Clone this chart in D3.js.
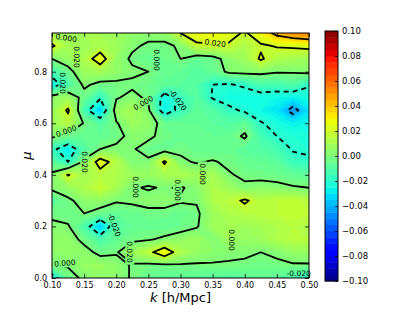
<!DOCTYPE html>
<html>
<head>
<meta charset="utf-8">
<script src="https://cdn.jsdelivr.net/npm/d3@7"></script>
<style>
  body { margin: 0; background: #fff; }
  svg { display: block; }
  text { font-family: "DejaVu Sans", sans-serif; fill: #000; }
</style>
</head>
<body>
<svg id="chart" width="415" height="312"></svg>
<script>
// grid sample positions
const kValues = [0.100, 0.125, 0.150, 0.175, 0.200, 0.225, 0.250, 0.275, 0.300,
                 0.325, 0.350, 0.375, 0.400, 0.425, 0.450, 0.475, 0.500];
const muValues = [0.00, 0.05, 0.10, 0.15, 0.20, 0.25, 0.30, 0.35, 0.40, 0.45,
                  0.50, 0.55, 0.60, 0.65, 0.70, 0.75, 0.80, 0.85, 0.90, 0.95];

// one row per mu (bottom to top), one column per k
const deltaByMu = [
  [-0.028,-0.004, 0.002, 0.005, 0.004,-0.001,-0.006,-0.008,-0.008,-0.008,-0.009,-0.010,-0.008,-0.006,-0.008,-0.012,-0.022],
  [-0.001, 0.001, 0.006, 0.007, 0.004,-0.001,-0.002,-0.002,-0.001,-0.001,-0.001,-0.001,-0.002,-0.003,-0.002,-0.001,-0.001],
  [ 0.004, 0.006, 0.004,-0.003,-0.001, 0.008, 0.016, 0.030, 0.012, 0.006, 0.004, 0.002, 0.002, 0.000, 0.002, 0.006, 0.007],
  [ 0.006, 0.005,-0.003,-0.012,-0.006,-0.002,-0.001, 0.002, 0.005, 0.008, 0.002, 0.008, 0.006, 0.008, 0.012, 0.015, 0.014],
  [ 0.003, 0.001,-0.012,-0.036,-0.010,-0.006,-0.005,-0.006,-0.004,-0.001, 0.008, 0.010, 0.008, 0.010, 0.012, 0.014, 0.013],
  [-0.003,-0.004, 0.000,-0.004,-0.006,-0.005,-0.003,-0.003,-0.005,-0.002, 0.008, 0.012, 0.014, 0.015, 0.016, 0.018, 0.016],
  [-0.008,-0.002, 0.004, 0.005, 0.001, 0.002, 0.004, 0.004, 0.001, 0.001, 0.012, 0.015, 0.022, 0.014, 0.016, 0.017, 0.015],
  [ 0.002, 0.006, 0.012, 0.018, 0.010, 0.001,-0.001, 0.001,-0.001, 0.003, 0.012, 0.008, 0.002, 0.004, 0.003, 0.001, 0.000],
  [ 0.002, 0.021, 0.010, 0.014, 0.012, 0.008, 0.006, 0.010, 0.012, 0.008, 0.010, 0.001,-0.002,-0.003,-0.004,-0.006,-0.007],
  [-0.008,-0.020, 0.003, 0.027, 0.014, 0.001, 0.002, 0.022, 0.002,-0.001, 0.001,-0.002,-0.005,-0.006,-0.008,-0.016,-0.018],
  [-0.016,-0.030,-0.010, 0.000, 0.002, 0.001,-0.004,-0.005,-0.002,-0.005,-0.006,-0.005,-0.008,-0.010,-0.013,-0.021,-0.022],
  [ 0.002,-0.003,-0.006,-0.006,-0.003, 0.003, 0.002,-0.003,-0.005,-0.004,-0.006,-0.006, 0.002,-0.014,-0.020,-0.022,-0.023],
  [ 0.008, 0.014,-0.001,-0.010,-0.001, 0.008, 0.005,-0.004,-0.006,-0.006,-0.008,-0.010,-0.006,-0.019,-0.024,-0.028,-0.026],
  [ 0.006, 0.022,-0.014,-0.035, 0.006, 0.010, 0.002,-0.028,-0.016,-0.007,-0.010,-0.017,-0.022,-0.026,-0.030,-0.045,-0.030],
  [ 0.005, 0.008,-0.004,-0.018,-0.001, 0.003,-0.002,-0.026,-0.016,-0.009,-0.021,-0.025,-0.026,-0.025,-0.026,-0.028,-0.024],
  [-0.028,-0.012, 0.002,-0.003,-0.002,-0.002,-0.004,-0.007,-0.008,-0.010,-0.020,-0.021,-0.018,-0.012,-0.013,-0.010,-0.019],
  [-0.014,-0.004, 0.008, 0.010, 0.005, 0.002, 0.000,-0.005,-0.006,-0.009,-0.006, 0.002, 0.003, 0.003, 0.001, 0.001, 0.003],
  [ 0.000, 0.006, 0.012, 0.028, 0.006,-0.002,-0.005,-0.004, 0.000,-0.006,-0.004, 0.004, 0.008, 0.022, 0.012, 0.010, 0.008],
  [ 0.022, 0.010, 0.008, 0.012, 0.008, 0.002,-0.002,-0.003, 0.002, 0.017, 0.018, 0.018, 0.012, 0.018, 0.021, 0.022, 0.024],
  [ 0.008, 0.008, 0.010, 0.010, 0.008, 0.005, 0.004, 0.006, 0.020, 0.028, 0.030, 0.026, 0.018, 0.030, 0.045, 0.052, 0.056]
];

const contourLevels = [-0.04, -0.02, 0.0, 0.02, 0.04];
const xTicks = [0.10, 0.15, 0.20, 0.25, 0.30, 0.35, 0.40, 0.45, 0.50];
const yTicks = [0.0, 0.2, 0.4, 0.6, 0.8];
const cbarTicks = [-0.10, -0.08, -0.06, -0.04, -0.02, 0.00, 0.02, 0.04, 0.06, 0.08, 0.10];

// inline contour labels: k, mu, text, angle
const contourLabels = [
  [0.122, 0.931, "0.000", 8],
  [0.139, 0.857, "0.020", 90],
  [0.117, 0.756, "0.020", 90],
  [0.263, 0.845, "0.000", 90],
  [0.354, 0.911, "0.020", 8],
  [0.242, 0.679, "0.000", -30],
  [0.296, 0.690, "-0.020", 55],
  [0.122, 0.570, "0.000", -20],
  [0.151, 0.450, "0.020", 90],
  [0.231, 0.353, "0.000", 90],
  [0.295, 0.341, "0.000", 90],
  [0.334, 0.403, "0.000", 90],
  [0.197, 0.206, "-0.020", 70],
  [0.221, 0.101, "0.020", 90],
  [0.120, 0.058, "0.000", -5],
  [0.379, 0.147, "0.000", 90],
  [0.484, 0.019, "-0.020", 0]
];

// layout
const plotLeft = 52, plotRight = 309, plotTop = 33, plotBottom = 278;
const cbLeft = 325, cbRight = 338, cbTop = 31, cbBottom = 281;
const vmin = -0.1, vmax = 0.1;

const svg = d3.select('#chart');

const x = d3.scaleLinear().domain([0.1, 0.5]).range([plotLeft, plotRight]);
const y = d3.scaleLinear().domain([0, 0.95]).range([plotBottom, plotTop]);

// matplotlib "jet"
const jetR = d3.scaleLinear().domain([0, 0.35, 0.66, 0.89, 1]).range([0, 0, 1, 1, 0.5]).clamp(true);
const jetG = d3.scaleLinear().domain([0, 0.125, 0.375, 0.64, 0.91, 1]).range([0, 0, 1, 1, 0, 0]).clamp(true);
const jetB = d3.scaleLinear().domain([0, 0.11, 0.34, 0.65, 1]).range([0.5, 1, 1, 0, 0]).clamp(true);
const norm = d3.scaleLinear().domain([vmin, vmax]).range([0, 1]).clamp(true);
function jet(v) {
  const t = norm(v);
  return d3.rgb(jetR(t) * 255, jetG(t) * 255, jetB(t) * 255).formatHex();
}

// grid -> data coordinates
const nx = kValues.length, ny = muValues.length;
const values = deltaByMu.flat();
const gxToK = d3.scaleLinear().domain([0.5, nx - 0.5]).range([kValues[0], kValues[nx - 1]]);
const gyToMu = d3.scaleLinear().domain([0.5, ny - 0.5]).range([muValues[0], muValues[ny - 1]]);
const path = d3.geoPath(d3.geoTransform({
  point: function(gx, gy) { this.stream.point(x(gxToK(gx)), y(gyToMu(gy))); }
}));

const defs = svg.append('defs');
defs.append('clipPath').attr('id', 'plotClip')
  .append('rect')
  .attr('x', plotLeft).attr('y', plotTop)
  .attr('width', plotRight - plotLeft).attr('height', plotBottom - plotTop);

const mask = defs.append('mask').attr('id', 'labelGaps')
  .attr('maskUnits', 'userSpaceOnUse')
  .attr('x', 0).attr('y', 0).attr('width', 415).attr('height', 312);
mask.append('rect').attr('x', 0).attr('y', 0).attr('width', 415).attr('height', 312).attr('fill', 'white');
const gapG = mask.append('g');

// filled field
const fillStep = 0.002;
const fillThresholds = d3.range(vmin, vmax, fillStep);
const fills = d3.contours().size([nx, ny]).thresholds(fillThresholds)(values);

const plotG = svg.append('g').attr('clip-path', 'url(#plotClip)');
plotG.append('g')
  .selectAll('path')
  .data(fills)
  .enter()
  .append('path')
  .attr('d', path)
  .attr('fill', d => jet(d.value + fillStep / 2))
  .attr('stroke', d => jet(d.value + fillStep / 2))
  .attr('stroke-width', 0.3);

// contour lines
const lines = d3.contours().size([nx, ny]).thresholds(contourLevels)(values);
plotG.append('g')
  .attr('mask', 'url(#labelGaps)')
  .selectAll('path')
  .data(lines)
  .enter()
  .append('path')
  .attr('d', path)
  .attr('fill', 'none')
  .attr('stroke', '#000')
  .attr('stroke-width', 1.8)
  .attr('stroke-linejoin', 'round')
  .attr('stroke-dasharray', d => d.value < 0 ? '5,4' : null);

// contour labels
const labelG = svg.append('g');
contourLabels.forEach(function(lb) {
  const px = x(lb[0]), py = y(lb[1]);
  const t = labelG.append('text')
    .attr('transform', 'translate(' + px + ',' + py + ') rotate(' + lb[3] + ')')
    .attr('text-anchor', 'middle')
    .attr('dy', '0.36em')
    .attr('font-size', 7.5)
    .text(lb[2]);
  const w = t.node().getComputedTextLength();
  gapG.append('rect')
    .attr('transform', 'translate(' + px + ',' + py + ') rotate(' + lb[3] + ')')
    .attr('x', -w / 2 - 2).attr('y', -4.5)
    .attr('width', w + 4).attr('height', 9)
    .attr('fill', 'black');
});

// axes (ticks inside, matplotlib classic)
const fmtX = d3.format('.2f'), fmtY = d3.format('.1f');
const bottomAxis = svg.append('g')
  .attr('transform', 'translate(0,' + plotBottom + ')')
  .call(d3.axisBottom(x).tickValues(xTicks).tickSize(-4).tickPadding(4).tickFormat(fmtX));
const topAxis = svg.append('g')
  .attr('transform', 'translate(0,' + plotTop + ')')
  .call(d3.axisTop(x).tickValues(xTicks).tickSize(-4).tickFormat(''));
const leftAxis = svg.append('g')
  .attr('transform', 'translate(' + plotLeft + ',0)')
  .call(d3.axisLeft(y).tickValues(yTicks).tickSize(-4).tickPadding(5).tickFormat(fmtY));
const rightAxis = svg.append('g')
  .attr('transform', 'translate(' + plotRight + ',0)')
  .call(d3.axisRight(y).tickValues(yTicks).tickSize(-4).tickFormat(''));
[bottomAxis, topAxis, leftAxis, rightAxis].forEach(function(a) {
  a.select('.domain').remove();
  a.selectAll('text').attr('font-size', 8).attr('font-family', '"DejaVu Sans", sans-serif').attr('fill', '#000');
  a.selectAll('line').attr('stroke', '#000').attr('stroke-width', 0.8);
});

svg.append('rect')
  .attr('x', plotLeft).attr('y', plotTop)
  .attr('width', plotRight - plotLeft).attr('height', plotBottom - plotTop)
  .attr('fill', 'none').attr('stroke', '#000').attr('stroke-width', 1);

// axis labels
const xLabel = svg.append('text')
  .attr('x', (plotLeft + plotRight) / 2).attr('y', 302)
  .attr('text-anchor', 'middle')
  .attr('font-size', 13);
xLabel.append('tspan').attr('font-style', 'italic').text('k');
xLabel.append('tspan').text(' [h/Mpc]');

svg.append('text')
  .attr('transform', 'translate(31,' + ((plotTop + plotBottom) / 2) + ') rotate(-90)')
  .attr('text-anchor', 'middle')
  .attr('font-size', 13)
  .attr('font-style', 'italic')
  .text('\u03bc');

// colorbar
const cy = d3.scaleLinear().domain([vmin, vmax]).range([cbBottom, cbTop]);
const cbStep = 0.005;
const cbBands = d3.range(vmin, vmax - 1e-9, cbStep);
svg.append('g')
  .selectAll('rect')
  .data(cbBands)
  .enter()
  .append('rect')
  .attr('x', cbLeft)
  .attr('width', cbRight - cbLeft)
  .attr('y', d => cy(d + cbStep))
  .attr('height', d => cy(d) - cy(d + cbStep) + 0.4)
  .attr('fill', d => jet(d + cbStep / 2));

const cbAxis = svg.append('g')
  .attr('transform', 'translate(' + cbRight + ',0)')
  .call(d3.axisRight(cy).tickValues(cbarTicks).tickSize(-3).tickPadding(4).tickFormat(d3.format('.2f')));
cbAxis.select('.domain').remove();
cbAxis.selectAll('text').attr('font-size', 8.5).attr('font-family', '"DejaVu Sans", sans-serif').attr('fill', '#000');
cbAxis.selectAll('line').attr('stroke', '#000').attr('stroke-width', 0.8);

svg.append('rect')
  .attr('x', cbLeft).attr('y', cbTop)
  .attr('width', cbRight - cbLeft).attr('height', cbBottom - cbTop)
  .attr('fill', 'none').attr('stroke', '#000').attr('stroke-width', 1);
</script>
</body>
</html>
